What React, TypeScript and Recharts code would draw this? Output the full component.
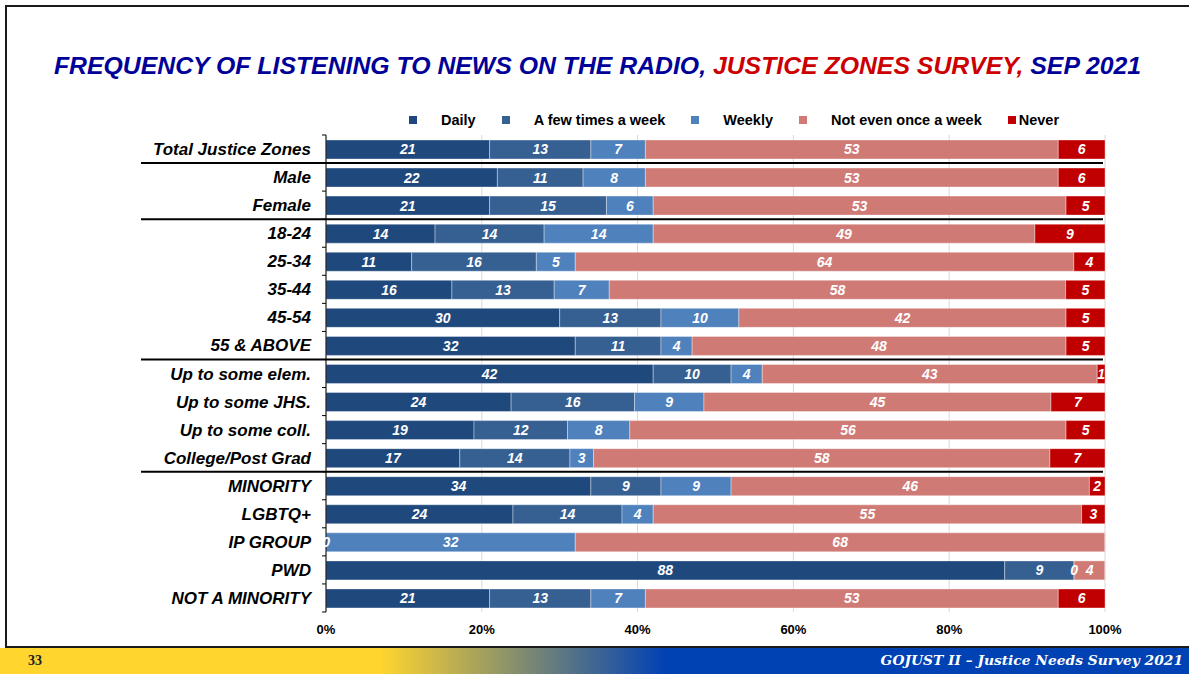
import React from 'react';
import { BarChart, Bar, XAxis, YAxis, CartesianGrid, LabelList } from 'recharts';

const groups = [
  'Total Justice Zones', 'Male', 'Female', '18-24', '25-34', '35-44', '45-54', '55 & ABOVE',
  'Up to some elem.', 'Up to some JHS.', 'Up to some coll.', 'College/Post Grad',
  'MINORITY', 'LGBTQ+', 'IP GROUP', 'PWD', 'NOT A MINORITY',
];

// null = no value shown on the slide
const daily = [21, 22, 21, 14, 11, 16, 30, 32, 42, 24, 19, 17, 34, 24, 0, 88, 21];
const fewTimes = [13, 11, 15, 14, 16, 13, 13, 11, 10, 16, 12, 14, 9, 14, null, 9, 13];
const weekly = [7, 8, 6, 14, 5, 7, 10, 4, 4, 9, 8, 3, 9, 4, 32, 0, 7];
const notOnce = [53, 53, 53, 49, 64, 58, 42, 48, 43, 45, 56, 58, 46, 55, 68, 4, 53];
const never = [6, 6, 5, 9, 4, 5, 5, 5, 1, 7, 5, 7, 2, 3, null, null, 6];

const xTicks = [0, 0.2, 0.4, 0.6, 0.8, 1];

// groups end after these rows (a separator line is drawn)
const groupEnds = ['Total Justice Zones', 'Female', '55 & ABOVE', 'College/Post Grad'];

const series = [
  { key: 'daily', name: 'Daily', values: daily, color: '#1f497d' },
  { key: 'few', name: 'A few times a week', values: fewTimes, color: '#376092' },
  { key: 'weekly', name: 'Weekly', values: weekly, color: '#4f81bd' },
  { key: 'notOnce', name: 'Not even once a week', values: notOnce, color: '#d07a75' },
  { key: 'never', name: 'Never', values: never, color: '#c00000' },
];

const data = groups.map((name, i) => {
  const row: Record<string, string | number> = { name };
  series.forEach((s) => {
    const v = s.values[i];
    row[s.key] = v ?? 0;
    row[s.key + 'Label'] = v === null ? '' : String(v);
  });
  return row;
});

const FONT = '"Liberation Sans", Arial, sans-serif';
const BAND = 28.06;

function GroupTick(props: any) {
  const { x, y, payload, index } = props;
  const axisX = x + 15;
  const isEnd = groupEnds.includes(payload.value);
  return (
    <g>
      <text
        x={x}
        y={y}
        dy={6}
        textAnchor="end"
        fontFamily={FONT}
        fontSize={17}
        fontWeight="bold"
        fontStyle="italic"
        fill="#000"
      >
        {payload.value}
      </text>
      <line x1={axisX - 4} x2={axisX} y1={y - BAND / 2} y2={y - BAND / 2} stroke="#000" />
      {index === groups.length - 1 && (
        <line x1={axisX - 4} x2={axisX} y1={y + BAND / 2} y2={y + BAND / 2} stroke="#000" />
      )}
      {isEnd && (
        <line x1={141} x2={1103} y1={y + BAND / 2} y2={y + BAND / 2} stroke="#000" strokeWidth={2} />
      )}
    </g>
  );
}

function App() {
  return (
    <div style={{ position: 'absolute', left: 0, top: 0, width: 1189, height: 674, background: '#fff', overflow: 'hidden' }}>
      <div style={{ position: 'absolute', left: 5, top: 5, width: 1200, height: 643, border: '2px solid #1a1a1a', boxSizing: 'border-box' }} />

      <div
        style={{
          position: 'absolute', left: 3, width: 1189, top: 52, textAlign: 'center', whiteSpace: 'nowrap',
          fontFamily: FONT, fontSize: 24.8, fontWeight: 'bold', fontStyle: 'italic', color: '#000099',
        }}
      >
        FREQUENCY OF LISTENING TO NEWS ON THE RADIO, <span style={{ color: '#cc0000' }}>JUSTICE ZONES SURVEY,</span> SEP 2021
      </div>

      {/* Legend */}
      <div style={{ position: 'absolute', left: 409, top: 112, display: 'flex', alignItems: 'center', fontFamily: FONT, fontSize: 14.5, fontWeight: 'bold', whiteSpace: 'nowrap' }}>
        {series.map((s, i) => (
          <div key={s.key} style={{ display: 'flex', alignItems: 'center', marginLeft: i === 0 ? 0 : 26 }}>
            <div style={{ width: 8, height: 8, background: s.color, marginRight: s.key === 'never' ? 3 : 24 }} />
            <span>{s.name}</span>
          </div>
        ))}
      </div>

      <div style={{ position: 'absolute', left: 0, top: 0 }}>
        <BarChart
          width={1189}
          height={674}
          data={data}
          layout="vertical"
          stackOffset="expand"
          barSize={19}
          margin={{ top: 135, right: 84, bottom: 32, left: 126 }}
        >
          <CartesianGrid horizontal={false} stroke="#d9d9d9" />
          <XAxis
            type="number"
            domain={[0, 1]}
            ticks={xTicks}
            tickFormatter={(v: number) => `${Math.round(v * 100)}%`}
            axisLine={false}
            tickLine={false}
            tickMargin={7}
            tick={{ fontFamily: FONT, fontSize: 13, fontWeight: 'bold', fill: '#000' }}
          />
          <YAxis
            type="category"
            dataKey="name"
            width={200}
            tickSize={0}
            tickMargin={15}
            axisLine={{ stroke: '#000' }}
            tick={<GroupTick />}
            interval={0}
          />
          {series.map((s) => (
            <Bar
              key={s.key}
              dataKey={s.key}
              name={s.name}
              stackId="a"
              fill={s.color}
              stroke="rgba(255,255,255,0.45)"
              strokeWidth={0.8}
              minPointSize={0.1}
              isAnimationActive={false}
            >
              <LabelList
                dataKey={s.key + 'Label'}
                position="center"
                fill="#fff"
                fontFamily={FONT}
                fontSize={14}
                fontWeight="bold"
                fontStyle="italic"
              />
            </Bar>
          ))}
        </BarChart>
      </div>

      {/* Footer band */}
      <div
        style={{
          position: 'absolute', left: 0, top: 648, width: 1189, height: 26,
          background: 'linear-gradient(to right, #ffd52e 0%, #ffd52e 32%, #0041b4 56%, #0041b4 100%)',
        }}
      />
      <div style={{ position: 'absolute', left: 28, top: 653, fontFamily: '"Liberation Serif", serif', fontWeight: 'bold', fontSize: 14, color: '#222' }}>
        33
      </div>
      <div style={{ position: 'absolute', right: 6, top: 652, fontFamily: '"DejaVu Serif", serif', fontWeight: 'bold', fontStyle: 'italic', fontSize: 13.8, color: '#fff' }}>
        GOJUST II – Justice Needs Survey 2021
      </div>
    </div>
  );
}

export default App;
